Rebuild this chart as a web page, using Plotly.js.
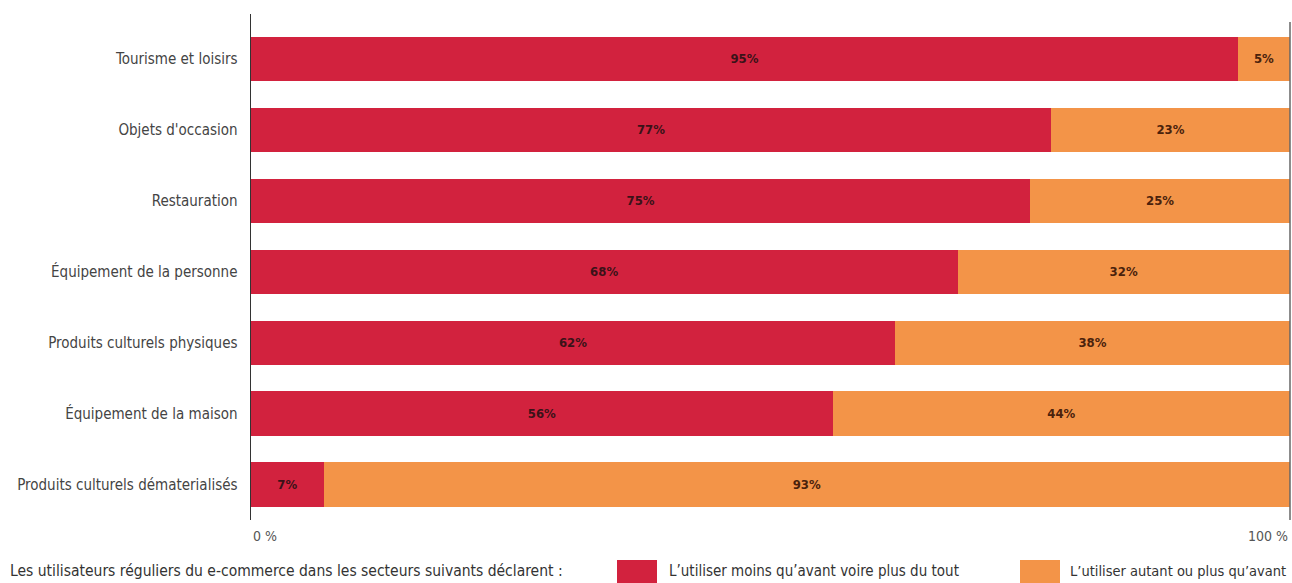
<!DOCTYPE html>
<html>
<head>
<meta charset="utf-8">
<script src="https://cdn.plot.ly/plotly-3.0.1.min.js"></script>
<style>
  html, body { margin: 0; padding: 0; background: #ffffff; }
  #chart { width: 1292px; height: 583px; }
</style>
</head>
<body>
<div id="chart"></div>
<script>
const categories = [
  "Tourisme et loisirs",
  "Objets d'occasion",
  "Restauration",
  "Équipement de la personne",
  "Produits culturels physiques",
  "Équipement de la maison",
  "Produits culturels dématerialisés"
];
const moins = [95, 77, 75, 68, 62, 56, 7];
const autant = [5, 23, 25, 32, 38, 44, 93];
const seriesNames = [
  "L’utiliser moins qu’avant voire plus du tout",
  "L’utiliser autant ou plus qu’avant"
];
const legendIntro = "Les utilisateurs réguliers du e-commerce dans les secteurs suivants déclarent :";
const xTickLabels = ["0 %", "100 %"];

const RED = "#D2223E";
const ORANGE = "#F39448";
const FONT = "Liberation Sans Narrow, DejaVu Sans Condensed, Roboto, sans-serif";

const W = 1292, H = 583;
const L = 251, R = 2, T = 14, B = 63;
const plotW = W - L - R, plotH = H - T - B;
const px2x = px => (px - L) / plotW;
const py2y = py => (H - B - py) / plotH;

const traces = [
  {
    type: "bar", orientation: "h", name: seriesNames[0],
    y: categories, x: moins,
    marker: { color: RED },
    text: moins.map(v => v + "%"),
    textposition: "inside", insidetextanchor: "middle",
    textfont: { family: FONT, size: 13, color: "#3a1218", weight: "bold" },
    hoverinfo: "skip", showlegend: false
  },
  {
    type: "bar", orientation: "h", name: seriesNames[1],
    y: categories, x: autant,
    marker: { color: ORANGE },
    text: autant.map(v => v + "%"),
    textposition: "inside", insidetextanchor: "middle",
    textfont: { family: FONT, size: 13, color: "#4a220c", weight: "bold" },
    hoverinfo: "skip", showlegend: false
  }
];

const swY0 = py2y(560), swY1 = py2y(584);
const layout = {
  width: W, height: H,
  margin: { l: L, r: R, t: T, b: B, pad: 0 },
  paper_bgcolor: "#ffffff", plot_bgcolor: "#ffffff",
  barmode: "stack", bargap: 0.38,
  showlegend: false,
  font: { family: FONT, size: 15, color: "#444" },
  xaxis: {
    range: [0, 100], showgrid: false, zeroline: false,
    showticklabels: false, ticks: "", showline: false, fixedrange: true
  },
  yaxis: {
    type: "category",
    range: [6.5, -0.627],
    showgrid: false, zeroline: false,
    showline: true, linecolor: "#333", linewidth: 1.5,
    ticks: "", ticklabelstandoff: 9,
    tickfont: { family: FONT, size: 15, color: "#444" },
    fixedrange: true
  },
  shapes: [
    { type: "line", xref: "paper", yref: "paper", x0: px2x(1290), x1: px2x(1290),
      y0: py2y(22), y1: 0, line: { color: "#666", width: 1.5 } },
    { type: "rect", xref: "paper", yref: "paper", x0: px2x(617), x1: px2x(657),
      y0: swY1, y1: swY0, fillcolor: RED, line: { width: 0 } },
    { type: "rect", xref: "paper", yref: "paper", x0: px2x(1020), x1: px2x(1060),
      y0: swY1, y1: swY0, fillcolor: ORANGE, line: { width: 0 } }
  ],
  annotations: [
    { xref: "paper", yref: "paper", x: 0, y: py2y(536), xanchor: "left", yanchor: "middle",
      text: xTickLabels[0], showarrow: false, font: { family: FONT, size: 14, color: "#555" } },
    { xref: "paper", yref: "paper", x: 1, y: py2y(536), xanchor: "right", yanchor: "middle",
      text: xTickLabels[1], showarrow: false, font: { family: FONT, size: 14, color: "#555" } },
    { xref: "paper", yref: "paper", x: px2x(8), y: py2y(571), xanchor: "left", yanchor: "middle",
      text: legendIntro, showarrow: false, font: { family: FONT, size: 15.5, color: "#333" } },
    { xref: "paper", yref: "paper", x: px2x(667), y: py2y(571), xanchor: "left", yanchor: "middle",
      text: seriesNames[0], showarrow: false, font: { family: FONT, size: 15, color: "#333" } },
    { xref: "paper", yref: "paper", x: px2x(1068), y: py2y(571), xanchor: "left", yanchor: "middle",
      text: seriesNames[1], showarrow: false, font: { family: FONT, size: 14.5, color: "#333" } }
  ]
};

Plotly.newPlot("chart", traces, layout, { displayModeBar: false, staticPlot: true });
</script>
</body>
</html>
